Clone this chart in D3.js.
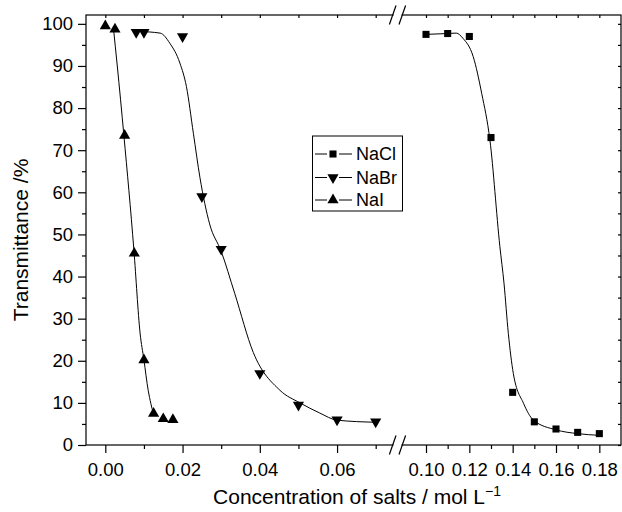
<!DOCTYPE html>
<meta charset="utf-8">
<script src="https://d3js.org/d3.v7.min.js"></script>
<style>
  body { margin: 0; background: #fff; }
  text { font-family: "Liberation Sans", Arial, sans-serif; fill: #000; }
</style>
<svg id="vis"></svg>
<script>
    // chart size and plot box
    var width = 622, height = 512;
    var margin = {top: 15, right: 1, bottom: 67, left: 86};

    // measured points
    let naclX = [0.10, 0.11, 0.12, 0.13, 0.14, 0.15, 0.16, 0.17, 0.18]
    let naclY = [97.5, 97.7, 97.0, 73.0, 12.5, 5.5, 3.8, 3.0, 2.7]
    let nabrX = [0.008, 0.010, 0.020, 0.025, 0.030, 0.040, 0.050, 0.060, 0.070]
    let nabrY = [98.0, 98.0, 97.0, 59.0, 46.5, 17.0, 9.5, 6.0, 5.5]
    let naiX = [0.000, 0.0025, 0.005, 0.0075, 0.010, 0.0125, 0.015, 0.0175]
    let naiY = [99.5, 98.7, 73.5, 45.5, 20.2, 7.5, 6.2, 6.0]

    // fitted curves
    let naclFitX = [0.10, 0.11, 0.114, 0.117, 0.1218, 0.1257, 0.1295, 0.1341, 0.136, 0.138, 0.1403, 0.145, 0.1496, 0.16, 0.17, 0.18]
    let naclFitY = [97.5, 97.7, 97.8, 96.6, 92.2, 83.5, 72.4, 47.1, 38.4, 26.5, 17.0, 9.9, 5.9, 3.6, 2.7, 2.3]
    let nabrFitX = [0.0085, 0.0142, 0.0167, 0.0193, 0.021, 0.0228, 0.0245, 0.027, 0.030, 0.0335, 0.0383, 0.0452, 0.0504, 0.0555, 0.060, 0.070]
    let nabrFitY = [98.2, 97.8, 95.4, 90.7, 85.1, 74.0, 63.5, 52.5, 46.0, 36.0, 22.0, 13.0, 10.0, 7.6, 5.9, 5.4]
    let naiFitX = [0.0021, 0.0031, 0.0048, 0.0074, 0.0090, 0.0100, 0.0111, 0.0118, 0.0124]
    let naiFitY = [99.0, 90.0, 73.6, 46.3, 26.6, 20.2, 13.0, 9.8, 7.6]

    // ticks
    let xMajor = [0.00, 0.02, 0.04, 0.06, 0.10, 0.12, 0.14, 0.16, 0.18]
    let xMinor = [0.01, 0.03, 0.05, 0.07, 0.11, 0.13, 0.15, 0.17]
    let yMajor = [0, 10, 20, 30, 40, 50, 60, 70, 80, 90, 100]
    let yMinor = [5, 15, 25, 35, 45, 55, 65, 75, 85, 95]

    let seriesNames = ['NaCl', 'NaBr', 'NaI']

    let svg = d3.select('#vis')
        .attr('width', width)
        .attr('height', height)

    let x0 = margin.left, x1 = width - margin.right
    let y0 = margin.top, y1 = height - margin.bottom

    // broken x axis: two linear pieces joined by a small gap
    var x = d3.scaleLinear()
        .domain([-0.005, 0.075, 0.088, 0.19])
        .range([x0, 395, 400, x1])
    var y = d3.scaleLinear()
        .domain([0, 102.1])
        .range([y1, y0])

    // frame
    svg.append('rect')
        .attr('x', x0).attr('y', y0)
        .attr('width', x1 - x0).attr('height', y1 - y0)
        .attr('fill', 'none').attr('stroke', '#000').attr('stroke-width', 1.2)

    // bottom axis
    svg.append('g').attr('transform', 'translate(0,' + y1 + ')')
        .call(d3.axisBottom(x).tickValues(xMajor).tickSize(8).tickPadding(10)
            .tickFormat(d3.format('.2f')))
    svg.append('g').attr('transform', 'translate(0,' + y1 + ')')
        .call(d3.axisBottom(x).tickValues(xMinor).tickSize(4).tickFormat(''))
    // top axis, inward ticks
    svg.append('g').attr('transform', 'translate(0,' + y0 + ')')
        .call(d3.axisTop(x).tickValues(xMajor.concat(xMinor)).tickSize(-3).tickFormat(''))
    // left axis
    svg.append('g').attr('transform', 'translate(' + x0 + ',0)')
        .call(d3.axisLeft(y).tickValues(yMajor).tickSize(8).tickPadding(5))
    svg.append('g').attr('transform', 'translate(' + x0 + ',0)')
        .call(d3.axisLeft(y).tickValues(yMinor).tickSize(4).tickFormat(''))
    // right axis, inward ticks
    svg.append('g').attr('transform', 'translate(' + x1 + ',0)')
        .call(d3.axisRight(y).tickValues(yMajor.concat(yMinor)).tickSize(-3).tickFormat(''))

    svg.selectAll('.domain').remove()
    svg.selectAll('.tick line').attr('stroke', '#000').attr('stroke-width', 1.2)
    svg.selectAll('.tick text').style('font-size', '18.5px')
        .style('font-family', '"Liberation Sans", Arial, sans-serif')

    // axis break marks
    let bx = (x(0.075) + x(0.088)) / 2
    ;[y0, y1].forEach(function (yy) {
        svg.append('rect')
            .attr('x', bx - 4).attr('y', yy - 2)
            .attr('width', 8).attr('height', 4)
            .attr('fill', '#fff')
        ;[-4.8, 4.8].forEach(function (off) {
            svg.append('line')
                .attr('x1', bx + off - 3.3).attr('y1', yy + 9.5)
                .attr('x2', bx + off + 3.3).attr('y2', yy - 9.5)
                .attr('stroke', '#000').attr('stroke-width', 1.2)
        })
    })

    // fitted lines
    let line = d3.line()
        .x(function (d) { return x(d[0]) })
        .y(function (d) { return y(d[1]) })
        .curve(d3.curveMonotoneX)
    let fits = [[naclFitX, naclFitY], [nabrFitX, nabrFitY], [naiFitX, naiFitY]]
    fits.forEach(function (f) {
        svg.append('path')
            .datum(d3.zip(f[0], f[1]))
            .attr('d', line)
            .attr('fill', 'none')
            .attr('stroke', '#000')
            .attr('stroke-width', 1)
    })

    // markers
    let square = d3.symbol().type(d3.symbolSquare).size(50)
    let tri = d3.symbol().type(d3.symbolTriangle).size(54)
    let markers = [
        {xs: naclX, ys: naclY, sym: square, rot: 0},
        {xs: nabrX, ys: nabrY, sym: tri, rot: 180},
        {xs: naiX, ys: naiY, sym: tri, rot: 0}
    ]
    markers.forEach(function (m) {
        svg.append('g')
            .selectAll('path')
            .data(d3.zip(m.xs, m.ys))
            .enter()
            .append('path')
            .attr('d', m.sym)
            .attr('transform', function (d) {
                return 'translate(' + x(d[0]) + ',' + y(d[1]) + ') rotate(' + m.rot + ')'
            })
            .attr('fill', '#000')
    })

    // legend
    let lg = svg.append('g')
    lg.append('rect')
        .attr('x', 312.5).attr('y', 136)
        .attr('width', 90).attr('height', 75)
        .attr('fill', '#fff').attr('stroke', '#000').attr('stroke-width', 1)
    let rowY = [154, 177.5, 200]
    seriesNames.forEach(function (name, i) {
        lg.append('line')
            .attr('x1', 315).attr('x2', 352)
            .attr('y1', rowY[i]).attr('y2', rowY[i])
            .attr('stroke', '#000').attr('stroke-width', 1)
        lg.append('rect')
            .attr('x', 327).attr('y', rowY[i] - 5)
            .attr('width', 12).attr('height', 10)
            .attr('fill', '#fff')
        lg.append('path')
            .attr('d', markers[i].sym)
            .attr('transform', 'translate(333,' + rowY[i] + ') rotate(' + markers[i].rot + ')')
            .attr('fill', '#000')
        lg.append('text')
            .attr('x', 356).attr('y', rowY[i])
            .attr('dy', '0.35em')
            .style('font-size', '18px')
            .text(name)
    })

    // axis titles
    let xt = svg.append('text')
        .attr('x', 357).attr('y', 503.5)
        .attr('text-anchor', 'middle')
        .style('font-size', '21px')
        .text('Concentration of salts / mol L')
    xt.append('tspan')
        .attr('dy', '-8')
        .style('font-size', '14px')
        .text('\u22121')

    svg.append('text')
        .attr('transform', 'translate(28,240) rotate(-90)')
        .attr('text-anchor', 'middle')
        .style('font-size', '21px')
        .text('Transmittance /%')
</script>
